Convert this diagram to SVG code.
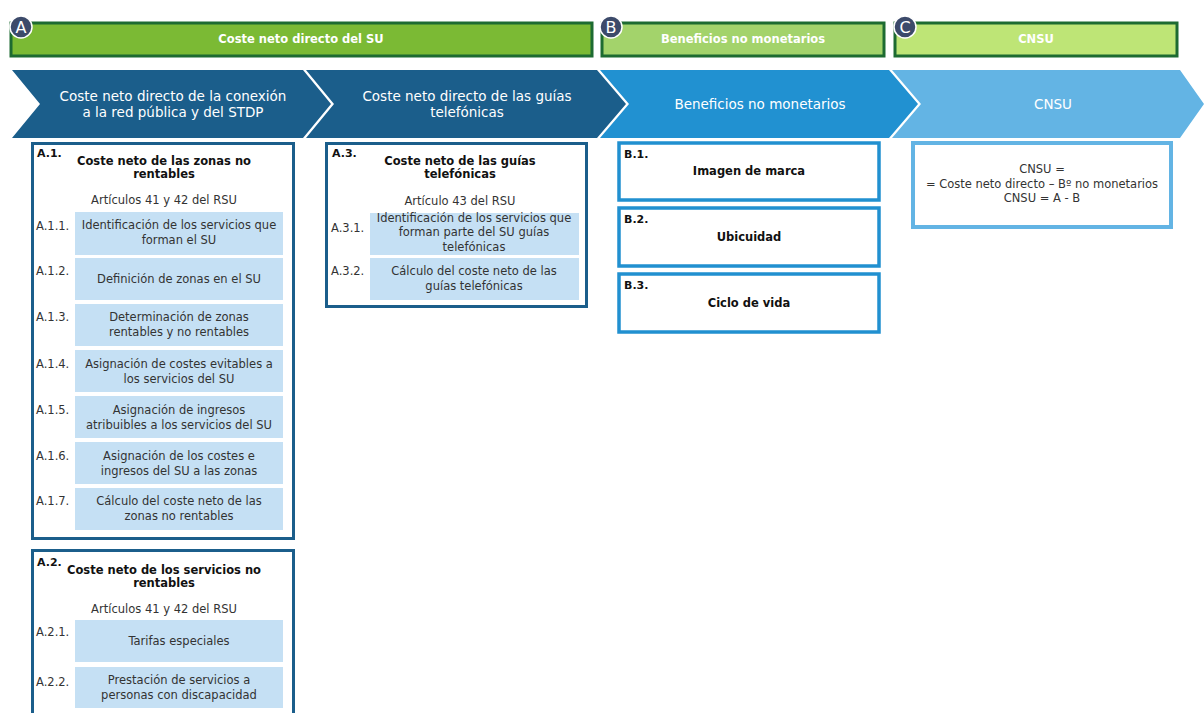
<svg xmlns="http://www.w3.org/2000/svg" width="1204" height="713" viewBox="0 0 1204 713">
<style>
text{font-family:"DejaVu Sans",Verdana,sans-serif;}
.hdr{stroke:#1d6b31;stroke-width:3;}
.hdrt{fill:#fff;font-weight:bold;font-size:11.5px;text-anchor:middle;}
.circ{fill:#3c4a6a;stroke:#fff;stroke-width:1.5;}
.circt{fill:#fff;font-size:16px;text-anchor:middle;}
.chev{stroke:none;}
.chevt{fill:#fff;font-size:13.5px;text-anchor:middle;}
.abox{fill:#fff;stroke:#1b5e8b;stroke-width:3;}
.bbox{fill:#fff;stroke:#2190d0;stroke-width:3.5;}
.cbox{fill:#fff;stroke:#63b4e4;stroke-width:4;}
.item{fill:#c5e0f4;}
.it{fill:#333;font-size:11.5px;text-anchor:middle;}
.lbl{fill:#333;font-size:11.5px;}
.blbl{fill:#111;font-size:11px;font-weight:bold;}
.ttl{fill:#111;font-size:11.5px;font-weight:bold;text-anchor:middle;}
.art{fill:#333;font-size:11.5px;text-anchor:middle;}
</style>

<g id="header-A">
<rect class="hdr" x="11" y="23" width="581" height="33" fill="#7bba34"/>
<text class="hdrt" x="301" y="43">Coste neto directo del SU</text>
<circle class="circ" cx="21" cy="27" r="11"/>
<text class="circt" x="21" y="33">A</text>
</g>
<g id="header-B">
<rect class="hdr" x="602" y="23" width="282" height="33" fill="#a3d36b"/>
<text class="hdrt" x="743" y="43">Beneficios no monetarios</text>
<circle class="circ" cx="611" cy="27" r="11"/>
<text class="circt" x="611" y="33">B</text>
</g>
<g id="header-C">
<rect class="hdr" x="895" y="23" width="282" height="33" fill="#bee576"/>
<text class="hdrt" x="1036" y="43">CNSU</text>
<circle class="circ" cx="905" cy="27" r="11"/>
<text class="circt" x="905" y="33">C</text>
</g>

<g id="chevron-1">
<polygon class="chev" fill="#1b5e8b" points="12,70 303,70 331,104 303,138 12,138 40,104"/>
<text class="chevt" x="173" y="101">Coste neto directo de la conexión</text>
<text class="chevt" x="173" y="117">a la red pública y del STDP</text>
</g>
<g id="chevron-2">
<polygon class="chev" fill="#1b5e8b" points="306,70 597,70 626,104 597,138 306,138 334,104"/>
<text class="chevt" x="467" y="101">Coste neto directo de las guías</text>
<text class="chevt" x="467" y="117">telefónicas</text>
</g>
<g id="chevron-3">
<polygon class="chev" fill="#2191d1" points="600,70 889,70 918,104 889,138 600,138 629,104"/>
<text class="chevt" x="760" y="109">Beneficios no monetarios</text>
</g>
<g id="chevron-4">
<polygon class="chev" fill="#63b4e4" points="892,70 1180,70 1204,104 1180,138 892,138 921,104"/>
<text class="chevt" x="1053" y="109">CNSU</text>
</g>

<g id="box-A1">
<rect class="abox" x="32.5" y="143.5" width="261" height="395"/>
<text class="blbl" x="37" y="157">A.1.</text>
<text class="ttl" x="164" y="165">Coste neto de las zonas no</text>
<text class="ttl" x="164" y="178">rentables</text>
<text class="art" x="164" y="204">Artículos 41 y 42 del RSU</text>
</g>
<g id="item-A11">
<rect class="item" x="75" y="212" width="208" height="43"/>
<text class="lbl" x="36" y="230">A.1.1.</text>
<text class="it" x="179" y="229">Identificación de los servicios que</text>
<text class="it" x="179" y="244">forman el SU</text>
</g>
<g id="item-A12">
<rect class="item" x="75" y="258" width="208" height="42"/>
<text class="lbl" x="36" y="275">A.1.2.</text>
<text class="it" x="179" y="283">Definición de zonas en el SU</text>
</g>
<g id="item-A13">
<rect class="item" x="75" y="304" width="208" height="42"/>
<text class="lbl" x="36" y="321">A.1.3.</text>
<text class="it" x="179" y="321">Determinación de zonas</text>
<text class="it" x="179" y="336">rentables y no rentables</text>
</g>
<g id="item-A14">
<rect class="item" x="75" y="350" width="208" height="42"/>
<text class="lbl" x="36" y="368">A.1.4.</text>
<text class="it" x="179" y="368">Asignación de costes evitables a</text>
<text class="it" x="179" y="383">los servicios del SU</text>
</g>
<g id="item-A15">
<rect class="item" x="75" y="396" width="208" height="42"/>
<text class="lbl" x="36" y="414">A.1.5.</text>
<text class="it" x="179" y="414">Asignación de ingresos</text>
<text class="it" x="179" y="429">atribuibles a los servicios del SU</text>
</g>
<g id="item-A16">
<rect class="item" x="75" y="442" width="208" height="42"/>
<text class="lbl" x="36" y="460">A.1.6.</text>
<text class="it" x="179" y="460">Asignación de los costes e</text>
<text class="it" x="179" y="475">ingresos del SU a las zonas</text>
</g>
<g id="item-A17">
<rect class="item" x="75" y="488" width="208" height="42"/>
<text class="lbl" x="36" y="505">A.1.7.</text>
<text class="it" x="179" y="505">Cálculo del coste neto de las</text>
<text class="it" x="179" y="520">zonas no rentables</text>
</g>

<g id="box-A2">
<rect class="abox" x="32.5" y="550.5" width="261" height="175"/>
<text class="blbl" x="37" y="566">A.2.</text>
<text class="ttl" x="164" y="574">Coste neto de los servicios no</text>
<text class="ttl" x="164" y="587">rentables</text>
<text class="art" x="164" y="613">Artículos 41 y 42 del RSU</text>
</g>
<g id="item-A21">
<rect class="item" x="75" y="620" width="208" height="42"/>
<text class="lbl" x="36" y="636">A.2.1.</text>
<text class="it" x="179" y="645">Tarifas especiales</text>
</g>
<g id="item-A22">
<rect class="item" x="75" y="667" width="208" height="41"/>
<text class="lbl" x="36" y="686">A.2.2.</text>
<text class="it" x="179" y="684">Prestación de servicios a</text>
<text class="it" x="179" y="699">personas con discapacidad</text>
</g>

<g id="box-A3">
<rect class="abox" x="326.5" y="143.5" width="260" height="163"/>
<text class="blbl" x="332" y="157">A.3.</text>
<text class="ttl" x="460" y="165">Coste neto de las guías</text>
<text class="ttl" x="460" y="178">telefónicas</text>
<text class="art" x="460" y="205">Artículo 43 del RSU</text>
</g>
<g id="item-A31">
<rect class="item" x="370" y="213" width="209" height="42"/>
<text class="lbl" x="331" y="232">A.3.1.</text>
<text class="it" x="474" y="222">Identificación de los servicios que</text>
<text class="it" x="474" y="236">forman parte del SU guías</text>
<text class="it" x="474" y="251">telefónicas</text>
</g>
<g id="item-A32">
<rect class="item" x="370" y="258" width="209" height="42"/>
<text class="lbl" x="331" y="275">A.3.2.</text>
<text class="it" x="474" y="275">Cálculo del coste neto de las</text>
<text class="it" x="474" y="290">guías telefónicas</text>
</g>

<g id="box-B1">
<rect class="bbox" x="619" y="143" width="260" height="57"/>
<text class="blbl" x="624" y="158">B.1.</text>
<text class="ttl" x="749" y="175">Imagen de marca</text>
</g>
<g id="box-B2">
<rect class="bbox" x="619" y="208" width="260" height="58"/>
<text class="blbl" x="624" y="223">B.2.</text>
<text class="ttl" x="749" y="241">Ubicuidad</text>
</g>
<g id="box-B3">
<rect class="bbox" x="619" y="274" width="260" height="58"/>
<text class="blbl" x="624" y="289">B.3.</text>
<text class="ttl" x="749" y="307">Ciclo de vida</text>
</g>

<g id="box-C">
<rect class="cbox" x="913" y="143" width="258" height="84"/>
<text class="art" x="1042" y="173">CNSU =</text>
<text class="art" x="1042" y="188">= Coste neto directo – Bº no monetarios</text>
<text class="art" x="1042" y="202">CNSU = A - B</text>
</g>

<g id="connectors"></g>
</svg>
